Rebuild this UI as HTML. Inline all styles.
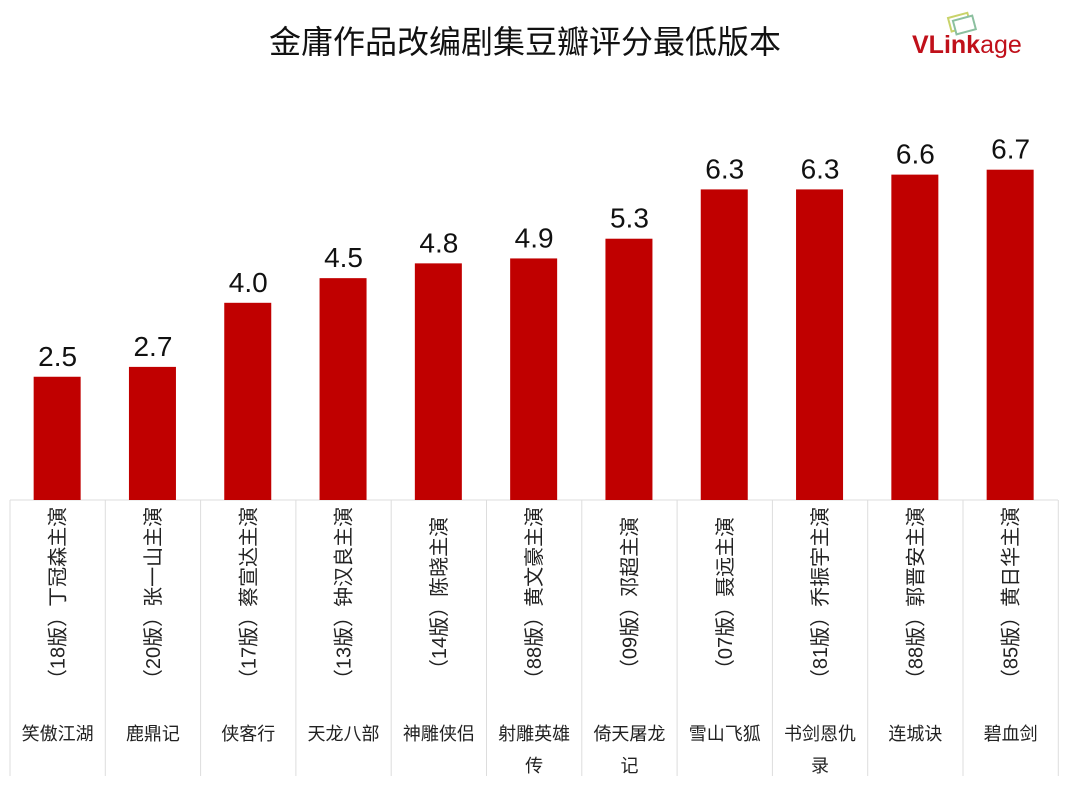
<!DOCTYPE html>
<html><head><meta charset="utf-8"><style>
body{margin:0;background:#fff;width:1080px;height:799px;overflow:hidden;font-family:"Liberation Sans","Noto Sans CJK SC",sans-serif;}
</style></head><body>
<svg width="1080" height="799" xmlns="http://www.w3.org/2000/svg" font-family="'Liberation Sans','Noto Sans CJK SC',sans-serif">
<text x="525" y="53" font-size="32" text-anchor="middle" fill="#111">金庸作品改编剧集豆瓣评分最低版本</text>
<g transform="translate(948,18) rotate(-15)"><rect x="0" y="0" width="20" height="14" fill="none" stroke="#c9d36a" stroke-width="2"/><rect x="4" y="4" width="20" height="14" fill="#fff" stroke="#8cc0a0" stroke-width="2"/></g>
<text x="912" y="53" font-size="25" font-weight="bold" fill="#c0101a">VLink<tspan font-weight="normal">age</tspan></text>
<g id="c"></g>
</svg>
<script>
const d=[["笑傲江湖","（18版）丁冠森主演",2.5],["鹿鼎记","（20版）张一山主演",2.7],["侠客行","（17版）蔡宣达主演",4.0],["天龙八部","（13版）钟汉良主演",4.5],["神雕侠侣","（14版）陈晓主演",4.8],["射雕英雄|传","（88版）黄文豪主演",4.9],["倚天屠龙|记","（09版）邓超主演",5.3],["雪山飞狐","（07版）聂远主演",6.3],["书剑恩仇|录","（81版）乔振宇主演",6.3],["连城诀","（88版）郭晋安主演",6.6],["碧血剑","（85版）黄日华主演",6.7]];
let s="";const w=95.3,x0=10,base=500,k=49.3;
for(let i=0;i<=11;i++){const x=x0+i*w;s+=`<line x1="${x}" y1="500" x2="${x}" y2="776" stroke="#ddd" stroke-width="1"/>`;}
s+=`<line x1="10" y1="500" x2="1058" y2="500" stroke="#ddd"/>`;
d.forEach((r,i)=>{const cx=x0+w*i+w/2,h=r[2]*k;
s+=`<rect x="${cx-24}" y="${base-h}" width="47" height="${h}" fill="#c00000"/>`;
s+=`<text x="${cx}" y="${base-h-11}" font-size="28" text-anchor="middle" fill="#111">${r[2].toFixed(1)}</text>`;
s+=`<text transform="translate(${cx+7},598) rotate(-90)" font-size="20" text-anchor="middle" fill="#222">${r[1]}</text>`;
const L=r[0].split("|");L.forEach((t,j)=>{s+=`<text x="${cx}" y="${740+j*32}" font-size="18" text-anchor="middle" fill="#222">${t}</text>`;});
});
s+=`<rect x="0" y="776" width="1080" height="23" fill="#fff"/>`;
document.getElementById("c").innerHTML=s;
</script>
</body></html>
